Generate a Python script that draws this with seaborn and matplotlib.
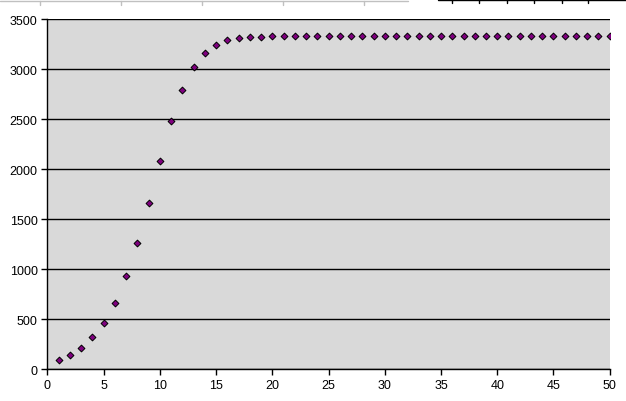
import matplotlib
matplotlib.use('Agg')
import matplotlib.pyplot as plt
import pandas as pd
import seaborn as sns

# values
steps = list(range(1, 51))
totals = [96, 146, 213, 320, 466, 666, 933, 1266, 1663, 2080,
          2480, 2793, 3020, 3163, 3243, 3290, 3310, 3323, 3328, 3331,
          3332, 3333, 3333, 3333, 3333, 3333, 3333, 3333, 3333, 3333,
          3333, 3333, 3333, 3333, 3333, 3333, 3333, 3333, 3333, 3333,
          3333, 3333, 3333, 3333, 3333, 3333, 3333, 3333, 3333, 3333]

df = pd.DataFrame({'step': steps, 'total': totals})

sns.set_style('white')
plt.rcParams['font.family'] = ['Liberation Sans', 'DejaVu Sans']

fig = plt.figure(figsize=(6.26, 4.02), dpi=100)
ax = fig.add_axes([0.0756, 0.0789, 0.8984, 0.8706])
ax.set_facecolor('#d9d9d9')

sns.scatterplot(data=df, x='step', y='total', ax=ax, marker='D', s=12,
                color='#800080', edgecolor='black', linewidth=0.7, zorder=3)

ax.set_xlim(0, 50)
ax.set_ylim(0, 3500)
ax.set_xticks(range(0, 51, 5))
ax.set_yticks(range(0, 3501, 500))
ax.yaxis.grid(True, color='black', linewidth=1)
ax.xaxis.grid(False)
ax.set_axisbelow(True)
ax.set_xlabel('')
ax.set_ylabel('')

for side in ['top', 'right']:
    ax.spines[side].set_visible(False)
for side in ['left', 'bottom']:
    ax.spines[side].set_color('black')
    ax.spines[side].set_linewidth(1)

ax.tick_params(axis='both', which='major', direction='out', length=4,
               width=1, color='black', labelsize=9, labelcolor='black',
               bottom=True, left=True, pad=3)

# leftover edge of another chart at the top of the screenshot
fig.add_artist(plt.Line2D([0, 408 / 626], [1 - 2 / 402, 1 - 2 / 402],
                          color='#c0c0c0', linewidth=1))
for px in [40, 121, 202, 283, 364]:
    fig.add_artist(plt.Line2D([px / 626, px / 626], [1 - 2 / 402, 1 - 6 / 402],
                              color='#c0c0c0', linewidth=1))
fig.add_artist(plt.Line2D([438 / 626, 1], [1 - 1 / 402, 1 - 1 / 402],
                          color='black', linewidth=1))
for px in [452, 479, 507, 534, 562, 588]:
    fig.add_artist(plt.Line2D([px / 626, px / 626], [1 - 1 / 402, 1 - 4 / 402],
                              color='black', linewidth=1))

fig.savefig('out.png', dpi=100)
